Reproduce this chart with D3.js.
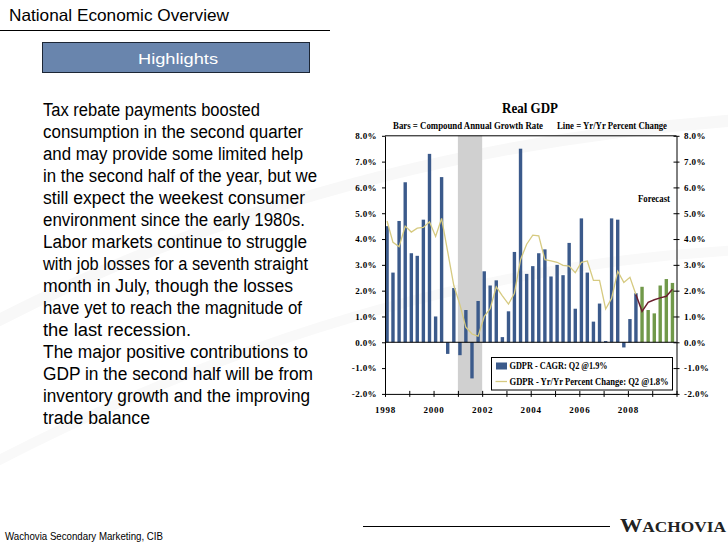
<!DOCTYPE html>
<html><head><meta charset="utf-8">
<script src="https://cdn.jsdelivr.net/npm/d3@7"></script>
<style>body{margin:0;background:#fff} svg{display:block}</style>
</head><body>
<svg id="c" width="728" height="546"></svg>
<script>
// ---------- DATA ----------
const quarters = [
 "1998Q1","1998Q2","1998Q3","1998Q4","1999Q1","1999Q2","1999Q3","1999Q4",
 "2000Q1","2000Q2","2000Q3","2000Q4","2001Q1","2001Q2","2001Q3","2001Q4",
 "2002Q1","2002Q2","2002Q3","2002Q4","2003Q1","2003Q2","2003Q3","2003Q4",
 "2004Q1","2004Q2","2004Q3","2004Q4","2005Q1","2005Q2","2005Q3","2005Q4",
 "2006Q1","2006Q2","2006Q3","2006Q4","2007Q1","2007Q2","2007Q3","2007Q4",
 "2008Q1","2008Q2"];
const forecastQuarters = ["2008Q3","2008Q4","2009Q1","2009Q2","2009Q3","2009Q4"];
// GDPR - CAGR (bars), actual
const cagr = [4.5,2.7,4.7,6.2, 3.45,3.35,4.75,7.3, 1.0,6.4,-0.45,2.1, -0.5,1.25,-1.4,1.6,
  2.75,2.2,2.4,0.2, 1.2,3.5,7.5,2.65, 2.95,3.45,3.6,2.55, 3.0,2.6,3.85,1.3,
  4.8,2.7,0.8,1.5, 0.05,4.8,4.75,-0.2, 0.9,1.9];
// GDPR - CAGR forecast (green bars)
const cagrForecast = [2.15,1.25,1.12,2.2,2.45,2.3];
// GDPR - Yr/Yr percent change (line), actual
const yoy = [4.7,3.87,3.7,4.5,4.27,4.42,4.45,4.67, 4.1,4.8,3.5,2.2, 1.45,0.58,0.32,0.24,
  1.0,1.3,2.15,1.8, 1.48,1.9,3.2,3.8, 4.15,4.12,3.2,3.15, 3.1,2.98,2.95,2.7,
  3.1,3.15,2.4,2.4, 1.29,1.7,2.75,2.32, 2.52,1.85];
// Yr/Yr forecast, starting from last actual quarter 2008Q2
const yoyForecastQuarters = ["2008Q2","2008Q3","2008Q4","2009Q1","2009Q2","2009Q3","2009Q4"];
const yoyForecast = [1.85,1.2,1.55,1.65,1.72,1.78,2.05];
const recession = ["2001-01-01","2002-01-01"];
const yTicks = [8,7,6,5,4,3,2,1,0,-1,-2];
const yearTicks = [1998,1999,2000,2001,2002,2003,2004,2005,2006,2007,2008,2009,2010];
const yearLabels = [1998,2000,2002,2004,2006,2008];
const legendLabels = ["GDPR - CAGR: Q2 @1.9%","GDPR - Yr/Yr Percent Change: Q2 @1.8%"];
const bodyLines = [
 "Tax rebate payments boosted",
 "consumption in the second quarter",
 "and may provide some limited help",
 "in the second half of the year, but we",
 "still expect the weekest consumer",
 "environment since the early 1980s.",
 "Labor markets continue to struggle",
 "with job losses for a seventh straight",
 "month in July, though the losses",
 "have yet to reach the magnitude of",
 "the last recession.",
 "The major positive contributions to",
 "GDP in the second half will be from",
 "inventory growth and the improving",
 "trade balance"];

// ---------- LAYOUT ----------
const bodyWidths = [217,260,260,274,262,262,264,265,250,259,148,265,270,267,107];
const P = {left:385, right:676.5, top:135.8, bottom:393.9};
const C = {blue:"#3b5a8b", green:"#71994a", yellow:"#d6ca80", maroon:"#6b1f2e", gray:"#d0d0d0"};
const serif = "'Liberation Serif','Times New Roman',serif";
const sans = "'Liberation Sans',Arial,sans-serif";

const svg = d3.select("#c");

// very faint background swooshes
svg.append("path").attr("d","M -20 330 Q 320 150 740 120").attr("fill","none")
  .attr("stroke","#f8f8f8").attr("stroke-width",12);
svg.append("path").attr("d","M -20 470 Q 360 270 740 250").attr("fill","none")
  .attr("stroke","#f9f9f9").attr("stroke-width",10);

// header
svg.append("text").attr("x",9).attr("y",21).attr("font-family",sans).attr("font-size",16.5)
  .attr("textLength",220).attr("lengthAdjust","spacingAndGlyphs").attr("fill","#000")
  .text("National Economic Overview");
svg.append("line").attr("x1",0).attr("x2",330).attr("y1",30.5).attr("y2",30.5)
  .attr("stroke","#000").attr("stroke-width",1);
svg.append("rect").attr("x",42.5).attr("y",42.5).attr("width",267).attr("height",30)
  .attr("fill","#6985ad").attr("stroke","#1c2635").attr("stroke-width",1);
svg.append("text").attr("x",178).attr("y",64).attr("text-anchor","middle")
  .attr("font-family",sans).attr("font-size",15.5).attr("fill","#fff")
  .attr("textLength",80).attr("lengthAdjust","spacingAndGlyphs").text("Highlights");

// body text
svg.append("g").selectAll("text").data(bodyLines).join("text")
  .attr("x",43).attr("y",(d,i)=>115.5 + i*22)
  .attr("font-family",sans).attr("font-size",18).attr("fill","#000")
  .attr("textLength",(d,i)=>bodyWidths[i]).attr("lengthAdjust","spacingAndGlyphs")
  .text(d=>d);

// footer
svg.append("text").attr("x",5).attr("y",540).attr("font-family",sans).attr("font-size",11)
  .attr("textLength",158).attr("lengthAdjust","spacingAndGlyphs").text("Wachovia Secondary Marketing, CIB");
svg.append("line").attr("x1",363).attr("x2",610).attr("y1",526.5).attr("y2",526.5)
  .attr("stroke","#000").attr("stroke-width",1.2);
const w = svg.append("text").attr("x",620).attr("y",532).attr("font-family",serif)
  .attr("font-weight","bold").attr("fill","#222").attr("textLength",106).attr("lengthAdjust","spacingAndGlyphs");
w.append("tspan").attr("font-size",18).text("W");
w.append("tspan").attr("font-size",14).text("ACHOVIA");

// ---------- CHART ----------
const qDate = q => new Date(+q.slice(0,4), (+q.slice(5)-1)*3 + 1, 1);
const x = d3.scaleTime().domain([new Date(1998,0,1), new Date(2010,0,1)]).range([P.left,P.right]);
const y = d3.scaleLinear().domain([-2,8]).range([P.bottom,P.top]);

// recession shading
const r0 = new Date(recession[0]+"T00:00"), r1 = new Date(recession[1]+"T00:00");
svg.append("rect").attr("x",x(r0)).attr("y",P.top)
  .attr("width",x(r1)-x(r0)).attr("height",P.bottom-P.top).attr("fill",C.gray);

const bw = 3.4;
const barData = quarters.map((q,i)=>({q,v:cagr[i],f:false}))
  .concat(forecastQuarters.map((q,i)=>({q,v:cagrForecast[i],f:true})));
svg.append("g").selectAll("rect").data(barData).join("rect")
  .attr("x",d=>x(qDate(d.q))-bw/2).attr("width",bw)
  .attr("y",d=>y(Math.max(0,d.v))).attr("height",d=>Math.abs(y(d.v)-y(0)))
  .attr("fill",d=>d.f?C.green:C.blue);

// frame lines
svg.append("line").attr("x1",P.left).attr("x2",P.right).attr("y1",y(8)).attr("y2",y(8)).attr("stroke","#000");
svg.append("line").attr("x1",P.left).attr("x2",P.right).attr("y1",y(0)).attr("y2",y(0)).attr("stroke","#000");

// lines
const line = d3.line().x(d=>x(qDate(d.q))).y(d=>y(d.v));
svg.append("path").datum(quarters.map((q,i)=>({q,v:yoy[i]})))
  .attr("d",line).attr("fill","none").attr("stroke",C.yellow).attr("stroke-width",1.3);
svg.append("path").datum(yoyForecastQuarters.map((q,i)=>({q,v:yoyForecast[i]})))
  .attr("d",line).attr("fill","none").attr("stroke",C.maroon).attr("stroke-width",1.5);

// axes
const fmt = d=>d.toFixed(1)+"%";
const axL = svg.append("g").attr("transform",`translate(${P.left},0)`)
  .call(d3.axisLeft(y).tickValues(yTicks).tickFormat(fmt).tickSize(3).tickSizeOuter(0).tickPadding(5));
const axR = svg.append("g").attr("transform",`translate(${P.right},0)`)
  .call(d3.axisRight(y).tickValues(yTicks).tickFormat(fmt).tickSize(3).tickSizeOuter(0).tickPadding(4.5));
axR.selectAll(".tick line").attr("x1",-3);
const axB = svg.append("g").attr("transform",`translate(0,${P.bottom})`)
  .call(d3.axisBottom(x).tickValues(yearTicks.map(t=>new Date(t,0,1)))
    .tickFormat(d=>yearLabels.includes(d.getFullYear())?String(d.getFullYear()):"")
    .tickSize(3).tickSizeOuter(0).tickPadding(10));
axB.selectAll(".tick line").attr("y1",-3);
[axL,axR,axB].forEach(a=>{
  a.selectAll(".domain,.tick line").attr("stroke","#000").attr("stroke-width",1);
  a.selectAll("text").attr("font-family",serif).attr("font-weight","bold")
    .attr("font-size",9).attr("fill","#000").attr("letter-spacing",0.4);
});
axB.selectAll("text").attr("letter-spacing",0.8);

// titles
svg.append("text").attr("x",530).attr("y",113).attr("text-anchor","middle")
  .attr("font-family",serif).attr("font-weight","bold").attr("font-size",14)
  .attr("textLength",56).attr("lengthAdjust","spacingAndGlyphs").text("Real GDP");
svg.append("text").attr("x",393).attr("y",128.5).attr("font-family",serif).attr("font-weight","bold")
  .attr("font-size",9.5).attr("textLength",150).attr("lengthAdjust","spacingAndGlyphs")
  .text("Bars = Compound Annual Growth Rate");
svg.append("text").attr("x",557).attr("y",128.5).attr("font-family",serif).attr("font-weight","bold")
  .attr("font-size",9.5).attr("textLength",110).attr("lengthAdjust","spacingAndGlyphs")
  .text("Line = Yr/Yr Percent Change");
svg.append("text").attr("x",638).attr("y",202).attr("font-family",serif).attr("font-weight","bold")
  .attr("font-size",9.5).attr("textLength",32).attr("lengthAdjust","spacingAndGlyphs").text("Forecast");

// legend
const lg = svg.append("g");
lg.append("rect").attr("x",491.5).attr("y",357.5).attr("width",181).attr("height",32.5)
  .attr("fill","#fff").attr("stroke","#000").attr("stroke-width",1);
lg.append("rect").attr("x",496).attr("y",362.5).attr("width",11).attr("height",7).attr("fill",C.blue);
lg.append("line").attr("x1",495.5).attr("x2",507).attr("y1",381.5).attr("y2",381.5)
  .attr("stroke",C.yellow).attr("stroke-width",1.3);
lg.selectAll("text").data(legendLabels).join("text")
  .attr("x",509.5).attr("y",(d,i)=>i?384.5:368.7)
  .attr("font-family",serif).attr("font-weight","bold").attr("font-size",10)
  .attr("textLength",(d,i)=>i?159:98).attr("lengthAdjust","spacingAndGlyphs").text(d=>d);
</script>
</body></html>
